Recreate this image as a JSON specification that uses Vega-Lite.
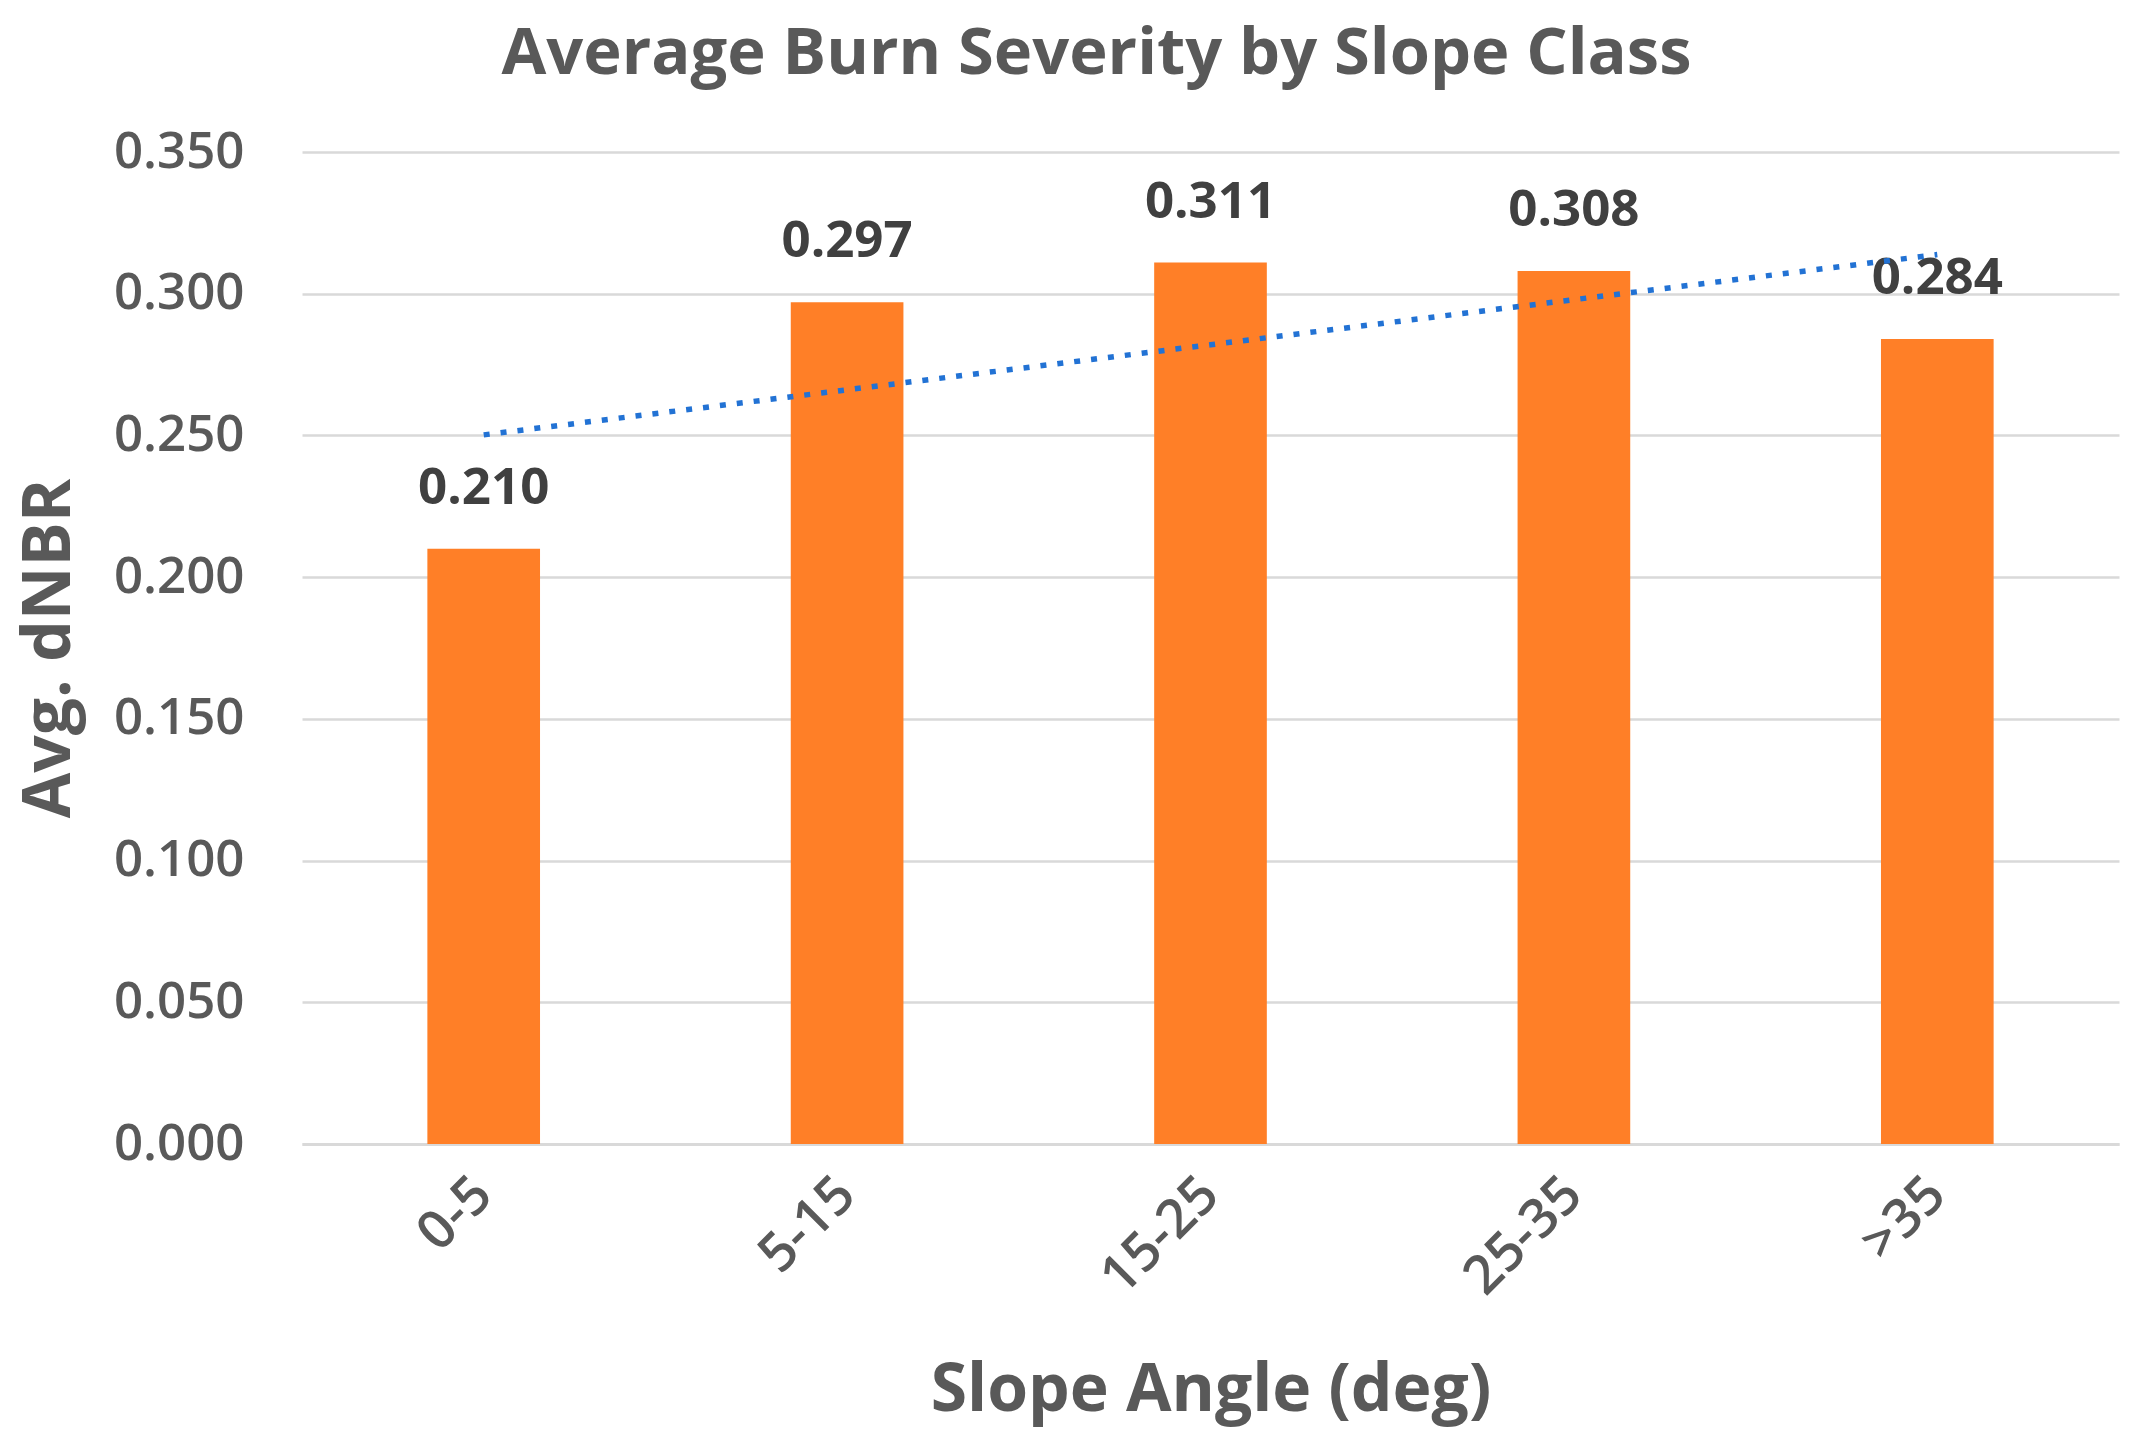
{
  "$schema": "https://vega.github.io/schema/vega-lite/v6.json",
  "width": 1817,
  "height": 992,
  "autosize": {"type": "none"},
  "padding": {"left": 302, "top": 152, "right": 36, "bottom": 311},
  "background": "white",
  "title": {
    "text": "Average Burn Severity by Slope Class",
    "font": "Open Sans",
    "fontSize": 65,
    "fontWeight": "bold",
    "color": "#595959",
    "anchor": "middle",
    "dx": -114,
    "offset": 38
  },
  "data": {
    "values": [
      {"slope": "0-5", "dnbr": 0.210, "trend": 0.2502},
      {"slope": "5-15", "dnbr": 0.297, "trend": 0.2661},
      {"slope": "15-25", "dnbr": 0.311, "trend": 0.2820},
      {"slope": "25-35", "dnbr": 0.308, "trend": 0.2979},
      {"slope": ">35", "dnbr": 0.284, "trend": 0.3138}
    ]
  },
  "encoding": {
    "x": {
      "field": "slope",
      "type": "nominal",
      "sort": null,
      "scale": {"paddingInner": 0.69, "paddingOuter": 0.345},
      "axis": {
        "title": "Slope Angle (deg)",
        "titleFont": "Open Sans",
        "titleFontSize": 66,
        "titleFontWeight": "bold",
        "titleColor": "#595959",
        "titlePadding": 54,
        "labelAngle": -45,
        "labelAlign": "right",
        "labelBaseline": "middle",
        "labelFont": "Open Sans",
        "labelFontSize": 54,
        "labelFontWeight": 600,
        "labelColor": "#595959",
        "labelPadding": 42,
        "ticks": false,
        "domain": true,
        "domainColor": "#D9D9D9",
        "domainWidth": 3
      }
    }
  },
  "layer": [
    {
      "mark": {"type": "bar", "color": "#FF7F27"},
      "encoding": {
        "y": {
          "field": "dnbr",
          "type": "quantitative",
          "scale": {"domain": [0, 0.35], "nice": false},
          "axis": {
            "title": "Avg. dNBR",
            "titleFont": "Open Sans",
            "titleFontSize": 66,
            "titleFontWeight": "bold",
            "titleColor": "#595959",
            "titlePadding": 30,
            "values": [0, 0.05, 0.1, 0.15, 0.2, 0.25, 0.3, 0.35],
            "format": ".3f",
            "labelFont": "Open Sans",
            "labelFontSize": 51,
            "labelFontWeight": 600,
            "labelColor": "#595959",
            "labelPadding": 58,
            "ticks": false,
            "domain": false,
            "grid": true,
            "gridColor": "#D9D9D9",
            "gridWidth": 2.5
          }
        }
      }
    },
    {
      "mark": {"type": "text", "font": "Open Sans", "fontSize": 51, "fontWeight": "bold", "color": "#404040", "baseline": "middle", "dy": -60},
      "encoding": {
        "y": {"field": "dnbr", "type": "quantitative"},
        "text": {"field": "dnbr", "type": "quantitative", "format": ".3f"}
      }
    },
    {
      "mark": {"type": "line", "color": "#2272D4", "strokeWidth": 5.5, "strokeDash": [6, 11]},
      "encoding": {
        "y": {"field": "trend", "type": "quantitative"}
      }
    }
  ],
  "config": {"view": {"stroke": null}}
}
